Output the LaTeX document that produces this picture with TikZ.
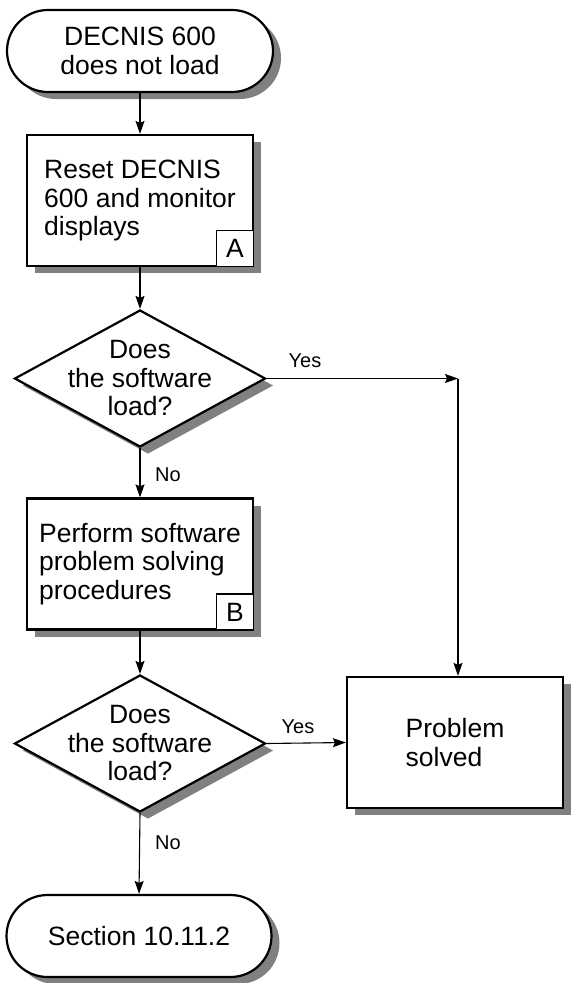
\documentclass[tikz,border=0pt]{standalone}
\usepackage{fontspec}
\setmainfont{Liberation Sans}
\usetikzlibrary{shapes.geometric,shadows,arrows.meta}
\definecolor{shadowgray}{gray}{0.5}
\begin{document}
\begin{tikzpicture}[x=1pt,y=-1pt,
  shad/.style={drop shadow={shadow xshift=8pt,shadow yshift=-7pt,fill=shadowgray,opacity=1}},
  maintext/.style={font=\fontsize{26.5}{28.5}\selectfont},
  terminal/.style={shape=rectangle,draw,line width=2.2pt,fill=white,rounded corners=41pt,minimum width=266pt,minimum height=82pt,inner sep=0pt,shad,maintext,align=center},
  procbox/.style={shape=rectangle,draw,line width=2.2pt,fill=white,minimum width=226pt,minimum height=131pt,inner sep=0pt,shad,maintext,align=left},
  tagbox/.style={shape=rectangle,draw,line width=1.2pt,fill=white,minimum width=37pt,minimum height=36pt,inner sep=0pt,anchor=south east,maintext},
  decision/.style={shape=diamond,draw,line width=2.2pt,fill=white,minimum width=251pt,minimum height=137pt,inner sep=0pt,shad},
  dtext/.style={maintext,align=center},
  conn/.style={line width=1.1pt,-{Stealth[length=13pt,width=9pt,inset=2pt]}},
  lbl/.style={font=\fontsize{20}{22}\selectfont}
]
\useasboundingbox (0,0) rectangle (571,983);

\node[terminal] (t1) at (140,51) {DECNIS 600\\does not load};
\node[procbox] (bA) at (140,200.5) {Reset DECNIS\\600 and monitor\\displays};
\node[tagbox] (tA) at (bA.south east) {A};
\node[decision] (d1) at (140,378.5) {};
\node[dtext] (d1t) at (d1.center) {Does\\the software\\load?};
\node[procbox] (bB) at (140,564) {Perform software\\problem solving\\procedures};
\node[tagbox] (tB) at (bB.south east) {B};
\node[decision] (d2) at (140,743.5) {};
\node[dtext] (d2t) at (d2.center) {Does\\the software\\load?};
\node[procbox,minimum width=216pt] (ps) at (455,742.5) {Problem\\solved};
\node[terminal,minimum width=265pt] (t2) at (139,936) {Section 10.11.2};

\coordinate (corner) at (458,378.5);

\draw[conn] (t1.south) -- (bA.north);
\draw[conn] (bA.south) -- (d1.north);
\draw[conn] (d1.east) -- (corner);
\draw[conn] (corner) -- (corner |- ps.north);
\draw[conn] (d1.south) -- (bB.north);
\draw[conn] (bB.south) -- (d2.north);
\draw[conn] (d2.east) -- (ps.west);
\draw[conn] (d2.south) -- (t2.north);

\node[lbl] (y1) at (305,361) {Yes};
\node[lbl] (n1) at (168,475) {No};
\node[lbl] (y2) at (298,727) {Yes};
\node[lbl] (n2) at (168,843) {No};
\end{tikzpicture}
\end{document}
